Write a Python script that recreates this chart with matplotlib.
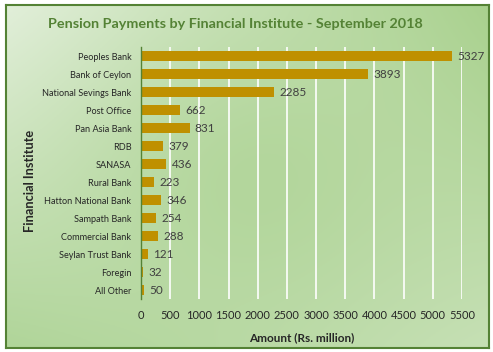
import matplotlib.pyplot as plt
import matplotlib.colors as mcolors
import numpy as np

plt.rcParams['font.family'] = ['Lato', 'DejaVu Sans']

# data
institutes = ['Peoples Bank', 'Bank of Ceylon', 'National Sevings Bank', 'Post Office',
              'Pan Asia Bank', 'RDB', 'SANASA', 'Rural Bank', 'Hatton National Bank',
              'Sampath Bank', 'Commercial Bank', 'Seylan Trust Bank', 'Foregin', 'All Other']
amounts = [5327, 3893, 2285, 662, 831, 379, 436, 223, 346, 254, 288, 121, 32, 50]
xticks = list(range(0, 5501, 500))

W, H = 493, 352
fig = plt.figure(figsize=(W / 100, H / 100), dpi=100)
fig.patch.set_facecolor('white')

# background gradient inside the border
bg = fig.add_axes([6 / W, 1 - 348 / H, 483 / W, 343 / H])
tl = np.array(mcolors.to_rgb('#e2efda'))
tr = np.array(mcolors.to_rgb('#a9d18e'))
bl = np.array(mcolors.to_rgb('#b0d599'))
br = np.array(mcolors.to_rgb('#c6e0b5'))
u = np.linspace(0, 1, 200)[None, :, None]
v = np.linspace(0, 1, 150)[:, None, None]
img = (1 - v) * ((1 - u) * tl + u * tr) + v * ((1 - u) * bl + u * br)
mid = np.array(mcolors.to_rgb('#abd291'))
d = np.exp(-(((u - 0.5) ** 2) / 0.1 + ((v - 0.5) ** 2) / 0.15))
img = img * (1 - 0.6 * d) + mid * 0.6 * d
bg.imshow(img, aspect='auto', extent=[0, 1, 0, 1])
bg.set_xticks([])
bg.set_yticks([])
for s in bg.spines.values():
    s.set_color('#548235')
    s.set_linewidth(1.5)

ax = fig.add_axes([141 / W, 1 - 299 / H, (462 - 141) / W, (299 - 47) / H])
ax.patch.set_alpha(0)
y = np.arange(len(institutes))
ax.barh(y, amounts, height=0.52, color='#bf9000', zorder=3)
ax.set_ylim(len(institutes) - 0.5, -0.5)
ax.set_xlim(0, 5500)
ax.set_xticks(xticks)
ax.set_xticklabels([str(t) for t in xticks], fontsize=8, color='#262626')
ax.set_yticks(y)
ax.set_yticklabels(institutes, fontsize=6.6, color='#262626')
ax.tick_params(axis='x', length=0, pad=8)
ax.tick_params(axis='y', length=0, pad=7)
ax.grid(axis='x', color='white', linewidth=1.2, zorder=1)
for s in ['top', 'right', 'bottom']:
    ax.spines[s].set_visible(False)
ax.spines['left'].set_color('#548235')
ax.spines['left'].set_linewidth(1)
ax.spines['left'].set_zorder(4)

for yi, a in zip(y, amounts):
    ax.text(a + 90, yi, str(a), va='center', ha='left', fontsize=8.5, color='#404040', zorder=4)

ax.set_xlabel('Amount (Rs. million)', fontsize=8.5, fontweight='bold', color='#262626', labelpad=8)
ax.set_ylabel('Financial Institute', fontsize=9.2, fontweight='bold', color='#262626')
ax.yaxis.set_label_coords(-0.326, 0.468)

fig.text(235 / W, 1 - 24 / H, 'Pension Payments by Financial Institute - September 2018',
         ha='center', va='center', fontsize=10.4, fontweight='bold', color='#548235')

fig.savefig('out.png', dpi=100)
